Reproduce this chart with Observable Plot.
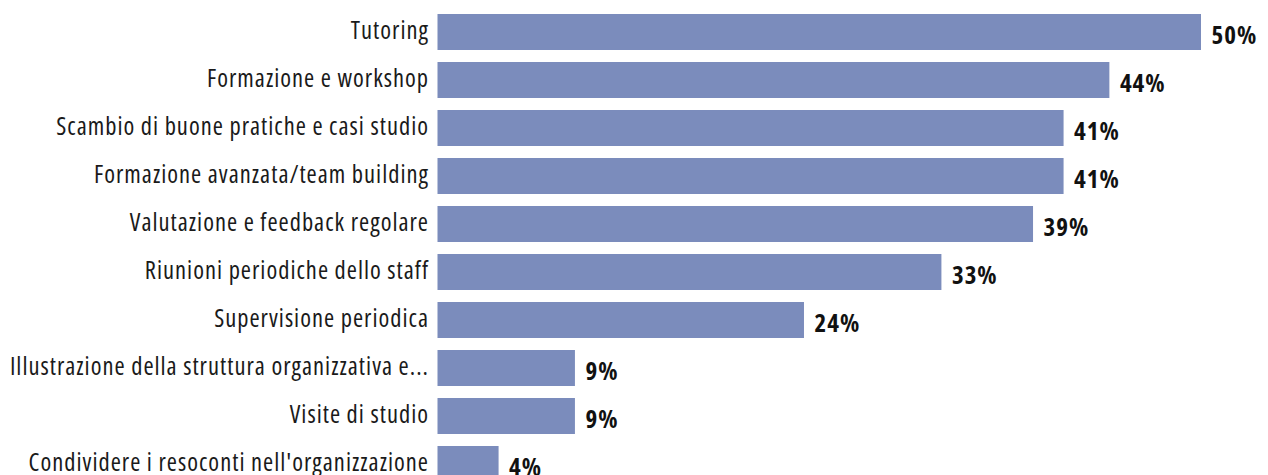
<!DOCTYPE html>
<html><head><meta charset="utf-8">
<script src="https://cdn.jsdelivr.net/npm/d3@7"></script>
<script src="https://cdn.jsdelivr.net/npm/@observablehq/plot@0.6"></script>
<style>html,body{margin:0;padding:0;background:#fff;overflow:hidden}</style>
</head><body><div id="chart"></div>
<script>
const categories = [
  "Tutoring",
  "Formazione e workshop",
  "Scambio di buone pratiche e casi studio",
  "Formazione avanzata/team building",
  "Valutazione e feedback regolare",
  "Riunioni periodiche dello staff",
  "Supervisione periodica",
  "Illustrazione della struttura organizzativa e...",
  "Visite di studio",
  "Condividere i resoconti nell'organizzazione"
];
const values = [50, 44, 41, 41, 39, 33, 24, 9, 9, 4];
const data = categories.map((c, i) => ({category: c, value: values[i]}));

const chart = Plot.plot({
  width: 1268,
  height: 495,
  marginLeft: 437.5,
  marginRight: 67,
  marginTop: 0,
  marginBottom: 0,
  style: {fontFamily: "'Open Sans', sans-serif", fontStretch: "condensed", letterSpacing: "1px", background: "white", overflow: "visible"},
  x: {domain: [0, 50], axis: null},
  y: {domain: categories, padding: 0.25, axis: null},
  marks: [
    Plot.barX(data, {x: "value", y: "category", fill: "#7b8cbc"}),
    Plot.text(data, {x: 0, y: "category", text: "category", textAnchor: "end", dx: -9, dy: -1.5, fontSize: 24.5, fill: "#1a1a1a"}),
    Plot.text(data, {x: "value", y: "category", text: d => d.value + "%", textAnchor: "start", dx: 10, dy: 3.5, fontSize: 25, fontWeight: "bold", fill: "#111"})
  ]
});
document.getElementById("chart").appendChild(chart);
</script>
</body></html>
